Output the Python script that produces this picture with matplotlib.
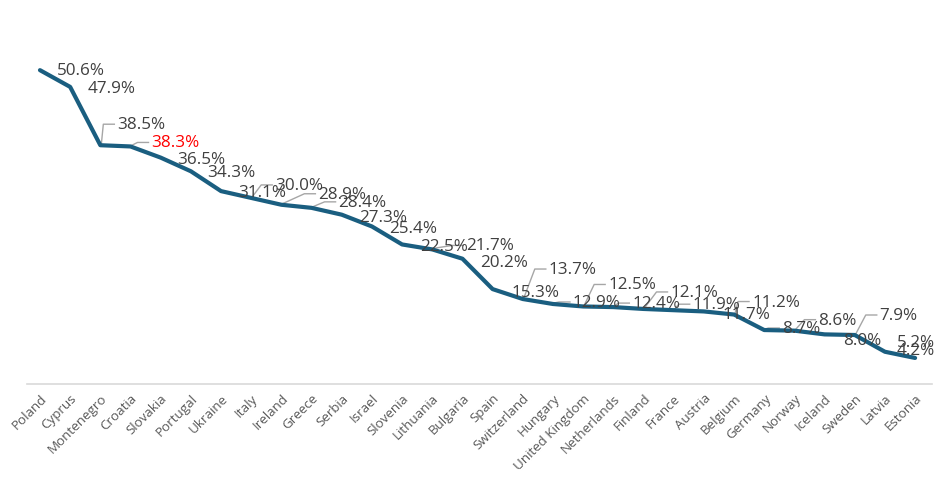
import matplotlib
matplotlib.use("Agg")
from matplotlib import pyplot as plt
import matplotlib.transforms as mtrans

countries = ["Poland", "Cyprus", "Montenegro", "Croatia", "Slovakia", "Portugal",
             "Ukraine", "Italy", "Ireland", "Greece", "Serbia", "Israel",
             "Slovenia", "Lithuania", "Bulgaria", "Spain", "Switzerland",
             "Hungary", "United Kingdom", "Netherlands", "Finland", "France",
             "Austria", "Belgium", "Germany", "Norway", "Iceland", "Sweden",
             "Latvia", "Estonia"]
values = [50.6, 47.9, 38.5, 38.3, 36.5, 34.3,
          31.1, 30.0, 28.9, 28.4, 27.3, 25.4,
          22.5, 21.7, 20.2, 15.3, 13.7,
          12.9, 12.5, 12.4, 12.1, 11.9,
          11.7, 11.2, 8.7, 8.6, 8.0, 7.9,
          5.2, 4.2]
highlight = "Croatia"

# label offsets in pixels (dx, dy), and which ones get a leader line
label_off = [(17, 0), (17, -1), (17, 21), (21, 4), (17, -1), (16, -1),
             (17, -1), (24, 13), (37, 11), (27, 6), (17, -2), (17, -2),
             (18, -2), (34, 4), (18, -3), (19, -3), (26, 30),
             (20, 2), (25, 22), (19, 4), (27, 17), (19, 6),
             (19, -3), (18, 13), (18, 2), (24, 11), (19, -6), (25, 20),
             (12, 10), (-18, 8)]
leader = [False, False, True, True, False, False,
          False, True, True, True, False, False,
          False, True, False, False, True,
          True, True, True, True, True,
          False, True, True, True, False, True,
          False, False]

line_col = "#1a5e80"
txt_col = "#404040"

fig = plt.figure(figsize=(9.4, 4.81), dpi=100)
ax = fig.add_axes([27 / 940, 96 / 481, 905 / 940, 374 / 481])

x = list(range(len(countries)))
ax.plot(x, values, color=line_col, lw=3.0, solid_capstyle="round",
        solid_joinstyle="round", zorder=3)

ax.set_xlim(-0.43, len(countries) - 1 + 0.56)
ax.set_ylim(0, 60.3)

for i, v in enumerate(values):
    dx, dy = label_off[i]
    col = "red" if countries[i] == highlight else txt_col
    ax.annotate(f"{v:.1f}%", xy=(i, v), xytext=(dx, dy),
                textcoords="offset pixels", ha="left", va="center",
                fontsize=12.3, color=col, fontfamily="Open Sans", zorder=4)
    if leader[i]:
        tr = mtrans.Affine2D() + mtrans.ScaledTranslation(i, v, ax.transData)
        kx = max(dx - 14, 2)
        ax.plot([1, kx, dx - 3], [1, dy, dy], color="#a6a6a6", lw=1.0,
                transform=tr, clip_on=False, zorder=2)

ax.set_xticks(x)
ax.set_xticklabels(countries, rotation=45, ha="right", rotation_mode="anchor",
                   fontsize=9.6, color="#595959", fontfamily="Open Sans")
ax.tick_params(axis="x", length=0, pad=5)
ax.set_yticks([])
for s in ["top", "right", "left"]:
    ax.spines[s].set_visible(False)
ax.spines["bottom"].set_color("#d9d9d9")
ax.spines["bottom"].set_linewidth(1.2)

fig.savefig("out.png", dpi=100)
